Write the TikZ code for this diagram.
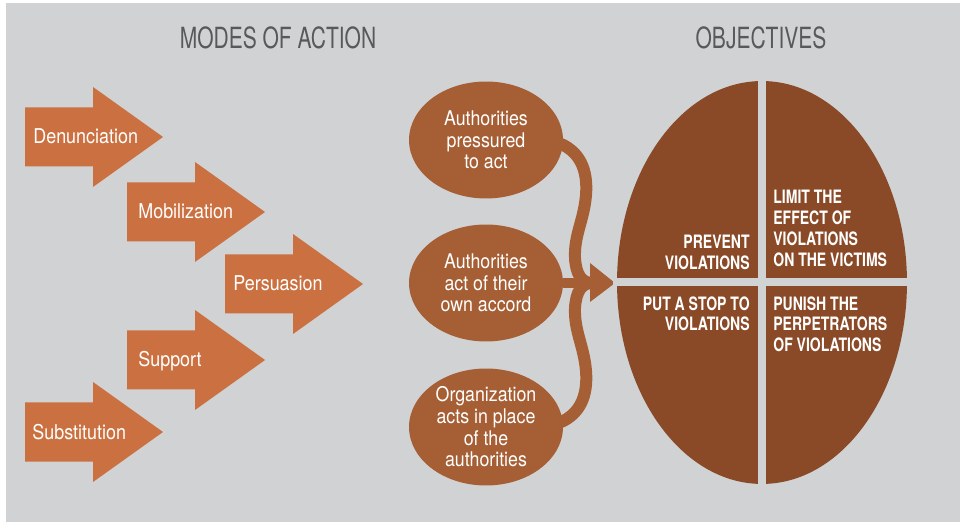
\documentclass[tikz,border=0pt]{standalone}
\usepackage{fontspec}
\setmainfont{TeX Gyre Heros}
\newfontfamily\cnfont{TeX Gyre Heros}[FakeStretch=0.88]
\newfontfamily\cnbfont{TeX Gyre Heros}[FakeStretch=0.76]
\newfontfamily\ttlfont{TeX Gyre Heros}[FakeStretch=0.72]
\usetikzlibrary{shapes.geometric}
\definecolor{bggrey}{HTML}{D1D2D4}
\definecolor{modeorange}{HTML}{CB7141}
\definecolor{pathbrown}{HTML}{A65F35}
\definecolor{objbrown}{HTML}{8A4A27}
\definecolor{titlegrey}{HTML}{58595B}
\pgfdeclarelayer{back}
\pgfsetlayers{back,main}

\begin{document}
\begin{tikzpicture}[x=0.02cm,y=-0.02cm,
  mode text/.style={anchor=base west,inner sep=0,text=white,font=\cnfont\fontsize{11.6}{13}\selectfont},
  way node/.style={ellipse,fill=pathbrown,minimum width=3.08cm,minimum height=2.34cm,inner sep=0,
    align=center,text=white,font=\cnfont\fontsize{11.5}{12.3}\selectfont},
  goal text/.style={inner sep=0,text=white,font=\cnbfont\bfseries\fontsize{10.5}{11.9}\selectfont},
  title/.style={text=titlegrey,font=\ttlfont\fontsize{16.6}{20}\selectfont},
  band/.style={draw=pathbrown,line width=0.24cm},
  gap/.style={draw=bggrey,line width=0.16cm,shorten >=-2pt,shorten <=-2pt}]

  \useasboundingbox (0,0) rectangle (960,523);

  \node[title] (modes) at (278,38) {MODES OF ACTION};
  \node[title] (objs)  at (761,38) {OBJECTIVES};

  % modes of action
  \foreach \nm/\x/\y/\dx/\txt in {den/25/137/8/Denunciation, mob/127/212/11/Mobilization,
      per/225/284/8/Persuasion, sup/127/360/11/Support, sub/25/432/7/Substitution}{
    \fill[modeorange] (\x,\y-29.5) -- ++(68,0) -- ++(0,-20.5) -- (\x+138,\y)
      -- (\x+68,\y+50) -- ++(0,-20.5) -- (\x,\y+29.5) -- cycle;
    \node[mode text] (\nm) at (\x+\dx,\y+7) {\txt};
  }

  \node[way node] (press)   at (486,140) {Authorities\\pressured\\to act};
  \node[way node] (accord)  at (486,283) {Authorities\\act of their\\own accord};
  \node[way node] (inplace) at (486,427) {Organization\\acts in place\\of the\\authorities};

  \coordinate (hub) at (592,283);

  \begin{pgfonlayer}{back}
    \fill[bggrey] (6,3) rectangle (960,522);
    \draw[band] (press.center) -- (556,142) .. controls (580,150) and (588,170) .. (586,195)
      .. controls (584,220) and (574,235) .. (575,258) .. controls (576,275) and (582,283) .. (hub);
    \draw[band] (inplace.center) -- (556,424) .. controls (580,416) and (588,396) .. (586,371)
      .. controls (584,346) and (574,331) .. (575,308) .. controls (576,291) and (582,283) .. (hub);
    \draw[pathbrown,line width=0.2cm] (accord) -- (hub);
  \end{pgfonlayer}
  \fill[pathbrown] (590,263) -- (615,283) -- (590,302) -- cycle;

  % objectives
  \node[ellipse,fill=objbrown,minimum width=5.8cm,minimum height=8.06cm,inner sep=0] (obj) at (762,282.5) {};
  \draw[gap] (obj.north) -- (obj.south);
  \draw[gap] (obj.west) -- (obj.east);

  \node[goal text,align=right,anchor=north east] (prevent) at (750,235) {PREVENT\\VIOLATIONS};
  \node[goal text,align=left,anchor=north west]  (limit)   at (773,190) {LIMIT THE\\EFFECT OF\\VIOLATIONS\\ON THE VICTIMS};
  \node[goal text,align=right,anchor=north east] (stop)    at (750,296) {PUT A STOP TO\\VIOLATIONS};
  \node[goal text,align=left,anchor=north west]  (punish)  at (773,296) {PUNISH THE\\PERPETRATORS\\OF VIOLATIONS};

\end{tikzpicture}
\end{document}
